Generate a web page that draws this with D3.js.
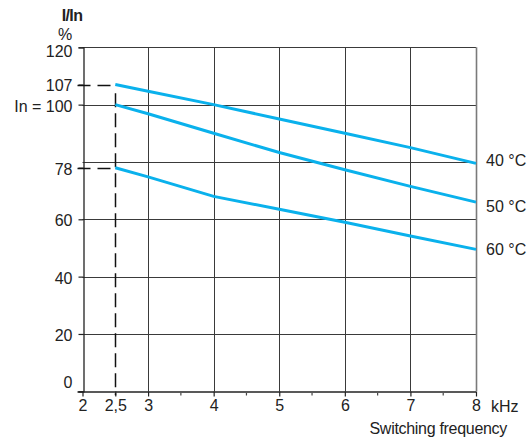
<!DOCTYPE html>
<html>
<head>
<meta charset="utf-8">
<script src="https://cdn.jsdelivr.net/npm/d3@7"></script>
<style>
  html, body { margin: 0; padding: 0; background: #fff; }
  svg text { font-family: "Liberation Sans", Arial, Helvetica, sans-serif; fill: #222; }
</style>
</head>
<body>
<svg id="chart" width="527" height="439"></svg>
<script>
// Derating curves: permissible output current (% of In) vs switching frequency
const freqs = [2.5, 3, 4, 5, 6, 7, 8];
const curve40 = [107, 104.7, 100, 95, 90, 85, 79.5];
const curve50 = [100, 96.8, 90, 83.3, 77.3, 71.5, 66];
const curve60 = [78, 74.8, 68, 63.5, 59, 54.2, 49.5];
const seriesNames = ["40 °C", "50 °C", "60 °C"];

const xMajorTicks = [2, 2.5, 3, 4, 5, 6, 7, 8];
const xTickLabels = ["2", "2,5", "3", "4", "5", "6", "7", "8"];
const xMinorTicks = [3.5, 4.5, 5.5, 6.5, 7.5];
const xGrid = [3, 4, 5, 6, 7];
const yTicks = [0, 20, 40, 60, 78, 100, 107, 120];
const yTickLabels = ["0", "20", "40", "60", "78", "In = 100", "107", "120"];
const yGrid = [20, 40, 60, 80, 100, 120];
const refFreq = 2.5;
const refLevels = [107, 78];

const svg = d3.select("#chart");
const x = d3.scaleLinear().domain([2, 8]).range([82.5, 476]);
const y = d3.scaleLinear().domain([0, 120]).range([391.3, 47.3]);
const px = v => Math.round(v) + 0.5;
const fs = "16px";

// grid
const g = svg.append("g");
g.selectAll(".hg").data(yGrid).join("line")
  .attr("x1", x(2)).attr("x2", x(8))
  .attr("y1", d => px(y(d))).attr("y2", d => px(y(d)))
  .attr("stroke", "#3a3a3a").attr("stroke-width", 1);
g.selectAll(".vg").data(xGrid).join("line")
  .attr("x1", d => px(x(d))).attr("x2", d => px(x(d)))
  .attr("y1", y(0)).attr("y2", y(120))
  .attr("stroke", "#3a3a3a").attr("stroke-width", 1);
// right border
g.append("line")
  .attr("x1", px(x(8))).attr("x2", px(x(8)))
  .attr("y1", y(0)).attr("y2", y(120))
  .attr("stroke", "#7a7a7a").attr("stroke-width", 1.6);

// y axis
const yAxis = d3.axisLeft(y).tickValues(yTicks).tickSize(5)
  .tickFormat((d, i) => yTickLabels[i]);
const ya = svg.append("g").attr("transform", `translate(${px(x(2))},0)`).call(yAxis);
ya.select(".domain").attr("stroke", "#222").attr("stroke-width", 1.3);
ya.selectAll(".tick line").attr("stroke", "#222").attr("stroke-width", 1.2);
ya.selectAll(".tick text")
  .attr("x", -11)
  .attr("dy", d => d === 0 ? "-0.25em" : d === 120 ? "0.6em" : "0.4em")
  .style("font-size", fs).style("fill", "#222");

// x axis
const xAxis = d3.axisBottom(x).tickValues(xMajorTicks).tickSize(5)
  .tickFormat((d, i) => xTickLabels[i]);
const xa = svg.append("g").attr("transform", `translate(0,${px(y(0))})`).call(xAxis);
xa.select(".domain").attr("d", `M${x(2) - 5},0.5H${x(8)}`)
  .attr("stroke", "#222").attr("stroke-width", 1.3);
xa.selectAll(".tick line").attr("stroke", "#222").attr("stroke-width", 1.2);
xa.selectAll(".tick text").attr("y", 8).attr("dy", "0.71em")
  .style("font-size", fs).style("fill", "#222");
xa.selectAll(".minor").data(xMinorTicks).join("line")
  .attr("x1", d => x(d)).attr("x2", d => x(d))
  .attr("y1", 1.5).attr("y2", 4)
  .attr("stroke", "#444").attr("stroke-width", 1.2);

// reference dashes at 2,5 kHz
svg.selectAll(".refh").data(refLevels).join("line")
  .attr("x1", x(2) - 5).attr("x2", x(refFreq))
  .attr("y1", d => px(y(d))).attr("y2", d => px(y(d)))
  .attr("stroke", "#111").attr("stroke-width", 1.5)
  .attr("stroke-dasharray", "13,7");
svg.append("line")
  .attr("x1", px(x(refFreq))).attr("x2", px(x(refFreq)))
  .attr("y1", y(104)).attr("y2", y(0) + 4)
  .attr("stroke", "#111").attr("stroke-width", 1.5)
  .attr("stroke-dasharray", "14,6");

// curves
const line = d3.line().x((d, i) => x(freqs[i])).y(d => y(d));
const curves = [curve40, curve50, curve60];
svg.selectAll(".curve").data(curves).join("path")
  .attr("d", line)
  .attr("fill", "none")
  .attr("stroke", "#0ab1ec")
  .attr("stroke-width", 3);

// curve labels
const labelNudge = [-3, 4, 0];
svg.selectAll(".clab").data(curves).join("text")
  .attr("x", x(8) + 10)
  .attr("y", (d, i) => y(d[d.length - 1]) + labelNudge[i])
  .attr("dy", "0.36em")
  .style("font-size", fs)
  .text((d, i) => seriesNames[i]);

// axis titles
svg.append("text").attr("x", 72).attr("y", 21).attr("text-anchor", "middle")
  .style("font-size", fs).style("font-weight", "bold").style("letter-spacing", "-0.6px")
  .text("I/In");
svg.append("text").attr("x", 65).attr("y", 40).attr("text-anchor", "middle")
  .style("font-size", fs).text("%");
svg.append("text").attr("x", x(8) + 15).attr("y", 412)
  .style("font-size", fs).text("kHz");
svg.append("text").attr("x", 507).attr("y", 434).attr("text-anchor", "end")
  .style("font-size", fs).style("letter-spacing", "-0.3px").text("Switching frequency");
</script>
</body>
</html>
